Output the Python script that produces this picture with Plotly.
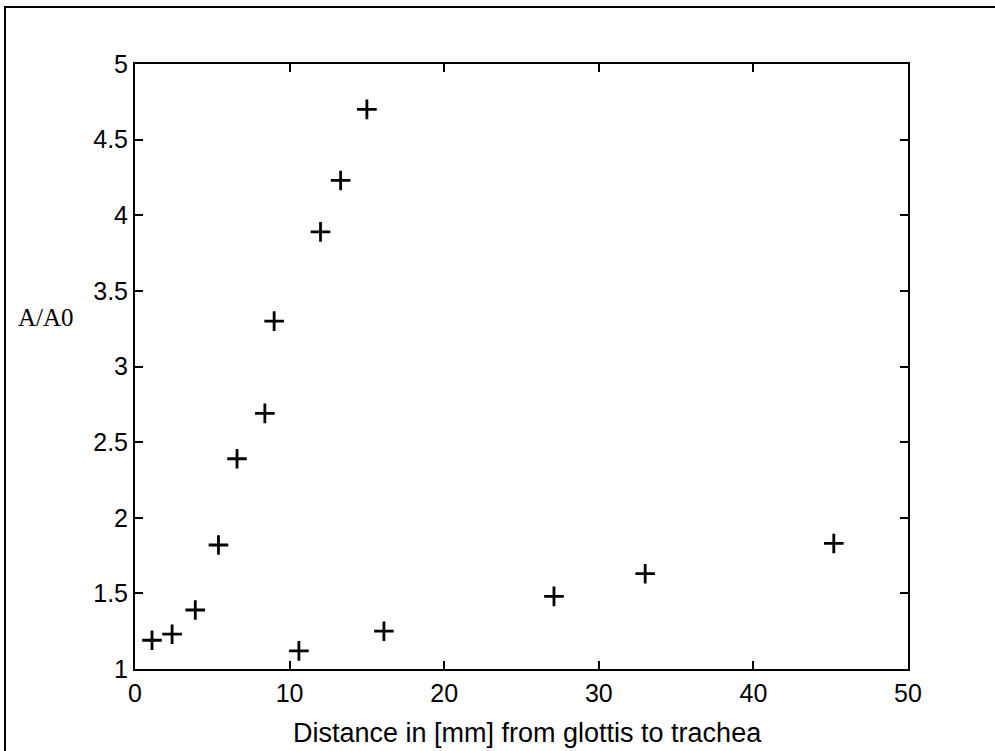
import plotly.graph_objects as go

# Distance along the airway [mm] and relative cross-section area A/A0
distance_mm = [1.1, 2.4, 3.9, 5.4, 6.6, 8.4, 9.0, 10.6, 12.0, 13.3, 15.0, 16.1, 27.1, 33.0, 45.2]
area_ratio = [1.19, 1.23, 1.39, 1.82, 2.39, 2.69, 3.30, 1.12, 3.89, 4.23, 4.70, 1.25, 1.48, 1.63, 1.83]

x_ticks = [0, 10, 20, 30, 40, 50]
y_ticks = [1, 1.5, 2, 2.5, 3, 3.5, 4, 4.5, 5]
y_tick_text = ["1", "1.5", "2", "2.5", "3", "3.5", "4", "4.5", "5"]

W, H = 995, 751
L, R, T, B = 135, 87, 64, 82
pw, ph = W - L - R, H - T - B


def px_to_paper_x(px):
    return (px - L) / pw


def px_to_paper_y(py):
    return (H - B - py) / ph


fig = go.Figure(
    go.Scatter(
        x=distance_mm,
        y=area_ratio,
        mode="markers",
        marker=dict(symbol="cross-thin", size=14, color="black",
                    line=dict(color="black", width=2.8)),
        showlegend=False,
        hoverinfo="x+y",
    )
)

axis_common = dict(
    showgrid=False,
    zeroline=False,
    showline=True,
    linecolor="black",
    linewidth=2,
    mirror="ticks",
    ticks="inside",
    ticklen=8,
    tickwidth=2,
    tickcolor="black",
    tickfont=dict(family="Liberation Sans, Arial, sans-serif", size=25, color="black"),
)

fig.update_xaxes(
    range=[0, 50],
    tickvals=x_ticks,
    ticktext=[str(v) for v in x_ticks],
    ticklabelstandoff=1,
    **axis_common,
)
fig.update_yaxes(
    range=[1, 5],
    tickvals=y_ticks,
    ticktext=y_tick_text,
    ticklabelstandoff=0,
    **axis_common,
)

# x-axis caption below the tick labels
fig.add_annotation(
    text="Distance in [mm] from glottis to trachea",
    xref="paper", yref="paper",
    x=px_to_paper_x(527), y=px_to_paper_y(733),
    xanchor="center", yanchor="middle",
    showarrow=False,
    font=dict(family="Liberation Sans, Arial, sans-serif", size=27, color="black"),
)

# Horizontal y label to the left of the tick labels
fig.add_annotation(
    text="A/A0",
    xref="paper", yref="paper",
    x=px_to_paper_x(16), y=px_to_paper_y(317),
    xanchor="left", yanchor="middle",
    showarrow=False,
    font=dict(family="Liberation Serif, Times New Roman, serif", size=25, color="black"),
)

# Outer frame around the whole figure
fig.add_shape(
    type="rect",
    xref="paper", yref="paper",
    x0=px_to_paper_x(5), x1=px_to_paper_x(1040),
    y0=px_to_paper_y(790), y1=px_to_paper_y(7),
    line=dict(color="black", width=2),
    fillcolor="rgba(0,0,0,0)",
    layer="below",
)

fig.update_layout(
    width=W, height=H,
    margin=dict(l=L, r=R, t=T, b=B, autoexpand=False),
    paper_bgcolor="white",
    plot_bgcolor="white",
)

fig.write_html("out.html")
